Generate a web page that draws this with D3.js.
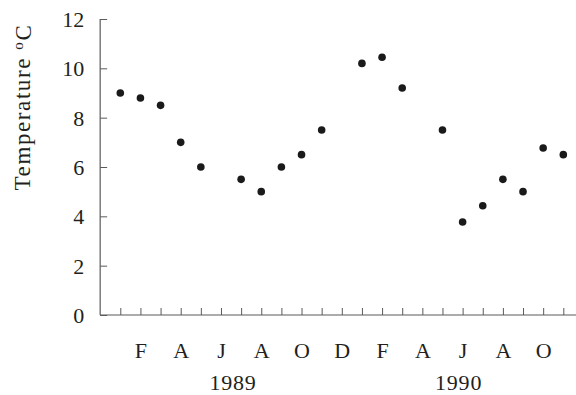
<!DOCTYPE html>
<html>
<head>
<meta charset="utf-8">
<script src="https://cdn.jsdelivr.net/npm/d3@7"></script>
<style>
  html, body { margin: 0; padding: 0; background: #fff; }
  svg text { font-family: "Liberation Serif", "DejaVu Serif", serif; fill: #231f20; }
</style>
</head>
<body>
<svg id="chart" width="576" height="395"></svg>
<script>
// ---- data ----
const months = ["J","F","M","A","M","J","J","A","S","O","N","D",
                "J","F","M","A","M","J","J","A","S","O","N"];
const monthLabels = ["", "F", "", "A", "", "J", "", "A", "", "O", "", "D",
                     "", "F", "", "A", "", "J", "", "A", "", "O", ""];
const temperature = [9.0, 8.8, 8.5, 7.0, 6.0, null, 5.5, 5.0, 6.0, 6.5, 7.5, null,
                     10.2, 10.45, 9.2, null, 7.5, 3.77, 4.43, 5.5, 5.0, 6.77, 6.5];
const years = ["1989", "1990"];
const yearCentres = [5.6, 16.8];
const yTicks = [0, 2, 4, 6, 8, 10, 12];

// ---- layout ----
const svg = d3.select("#chart");
const x = d3.scaleLinear().domain([0, 22]).range([120.3, 563.3]);
const y = d3.scaleLinear().domain([0, 12]).range([315, 19]);
const axisColor = "#5a5a5a";

// y axis
const yAxis = svg.append("g")
  .attr("transform", `translate(${x(-1)},0)`)
  .call(d3.axisLeft(y).tickValues(yTicks).tickSizeInner(-7).tickSizeOuter(0).tickPadding(16));
yAxis.select(".domain").remove();
yAxis.selectAll(".tick line").attr("stroke", axisColor);
yAxis.selectAll(".tick text").attr("font-size", 22).attr("dy", "0.34em");
yAxis.append("line").attr("x1", 0).attr("x2", 0).attr("y1", y(12)).attr("y2", y(0))
  .attr("stroke", axisColor).attr("stroke-width", 1.2);

// x axis
const xAxis = svg.append("g")
  .attr("transform", `translate(0,${y(0)})`)
  .call(d3.axisBottom(x).tickValues(d3.range(months.length))
        .tickFormat((d, i) => monthLabels[i]).tickSizeInner(-7).tickSizeOuter(0).tickPadding(27));
xAxis.select(".domain").remove();
xAxis.selectAll(".tick line").attr("stroke", axisColor);
xAxis.selectAll(".tick text").attr("font-size", 22);
xAxis.append("line").attr("x1", x(-1)).attr("x2", 576).attr("y1", 0).attr("y2", 0)
  .attr("stroke", axisColor).attr("stroke-width", 1.2);

// year labels
svg.selectAll("text.year").data(years).join("text")
  .attr("class", "year")
  .attr("x", (d, i) => x(yearCentres[i]))
  .attr("y", 390)
  .attr("text-anchor", "middle")
  .attr("font-size", 22)
  .attr("letter-spacing", 0.8)
  .text(d => d);

// y title
const title = svg.append("text")
  .attr("transform", `translate(30,107) rotate(-90)`)
  .attr("text-anchor", "middle")
  .attr("font-size", 23)
  .attr("letter-spacing", 1.6);
title.append("tspan").text("Temperature ");
title.append("tspan").attr("font-size", 15).attr("dy", "-0.5em").text("o");
title.append("tspan").attr("dy", "0.35em").text("C");

// points
svg.selectAll("circle.pt")
  .data(temperature.map((v, i) => ({ i, v })).filter(d => d.v !== null))
  .join("circle")
  .attr("class", "pt")
  .attr("cx", d => x(d.i))
  .attr("cy", d => y(d.v))
  .attr("r", 3.8)
  .attr("fill", "#1a1a1a");
</script>
</body>
</html>
